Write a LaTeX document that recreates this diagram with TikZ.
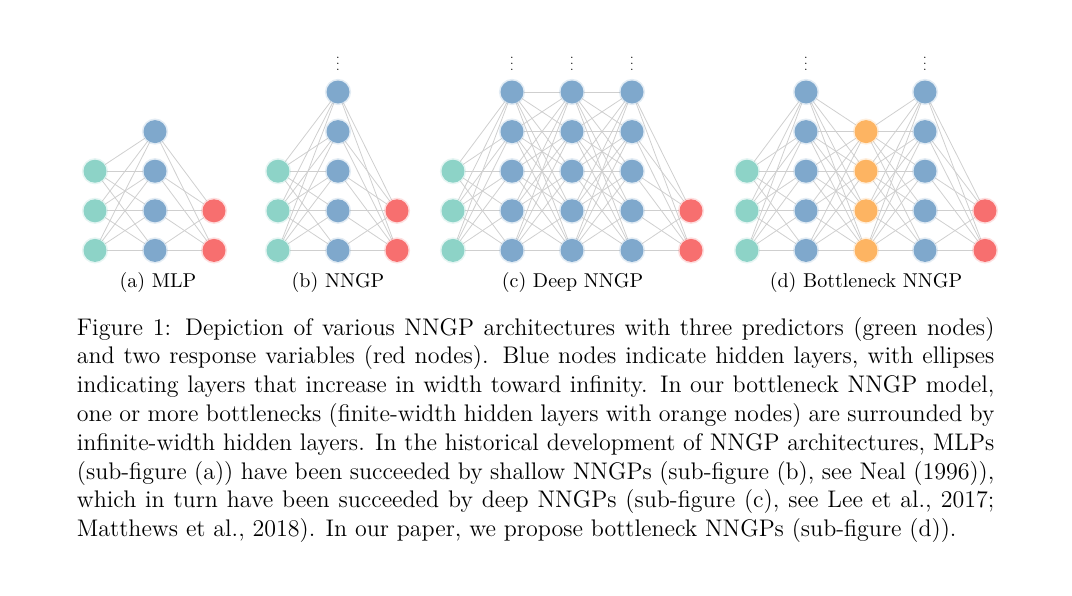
\documentclass[tikz,border=0pt]{standalone}
\usetikzlibrary{backgrounds}
\definecolor{ngreen}{HTML}{8DD3C7}
\definecolor{nblue}{HTML}{7FA8CC}
\definecolor{norange}{HTML}{FDB462}
\definecolor{nred}{HTML}{F76F6F}
\newcommand\mklayer[5]{% name, x, first row, last row, style
  \foreach \k in {#3,...,#4}{\node[#5] (#1\k) at (#2,{92+39.6*(\k-1)}) {};}}
\newcommand\fullconn[6]{% name1, from, to, name2, from, to
  \begin{scope}[on background layer]
  \foreach \i in {#2,...,#3}{\foreach \j in {#5,...,#6}{\draw[wire] (#1\i) -- (#4\j);}}
  \end{scope}}
\begin{document}
\begin{tikzpicture}[x=0.5pt,y=-0.5pt,
  unit/.style={circle, minimum size=11.5pt, inner sep=0pt,
    preaction={draw=#1, line width=1.6pt, draw opacity=0.22}, fill=#1},
  inp/.style={unit=ngreen},
  hid/.style={unit=nblue},
  bot/.style={unit=norange},
  outp/.style={unit=nred},
  wire/.style={draw=gray!38, line width=0.4pt},
  vdotsnode/.style={anchor=south, inner sep=0pt, font=\fontsize{8}{8}\selectfont},
  sub/.style={anchor=base, inner sep=0pt, font=\fontsize{10}{12}\selectfont}]
\useasboundingbox (0,0) rectangle (1072,595);
% (a) MLP
\mklayer{ag}{95}{3}{5}{inp}
\mklayer{ah}{155}{2}{5}{hid}
\mklayer{ar}{214}{4}{5}{outp}
\fullconn{ag}{3}{5}{ah}{2}{5}
\fullconn{ah}{2}{5}{ar}{4}{5}
\node[sub] (la) at (158,287.5) {(a) MLP};
% (b) NNGP
\mklayer{bg}{278}{3}{5}{inp}
\mklayer{bh}{338}{1}{5}{hid}
\mklayer{br}{397}{4}{5}{outp}
\fullconn{bg}{3}{5}{bh}{1}{5}
\fullconn{bh}{1}{5}{br}{4}{5}
\node[vdotsnode] (bd) at (338,71) {\scalebox{0.75}{$\vdots$}};
\node[sub] (lb) at (338,287.5) {(b) NNGP};
% (c) Deep NNGP
\mklayer{cg}{453}{3}{5}{inp}
\mklayer{ch}{512}{1}{5}{hid}
\mklayer{ci}{572}{1}{5}{hid}
\mklayer{cj}{632}{1}{5}{hid}
\mklayer{cr}{691}{4}{5}{outp}
\fullconn{cg}{3}{5}{ch}{1}{5}
\fullconn{ch}{1}{5}{ci}{1}{5}
\fullconn{ci}{1}{5}{cj}{1}{5}
\fullconn{cj}{1}{5}{cr}{4}{5}
\node[vdotsnode] (cd1) at (512,71) {\scalebox{0.75}{$\vdots$}};
\node[vdotsnode] (cd2) at (572,71) {\scalebox{0.75}{$\vdots$}};
\node[vdotsnode] (cd3) at (632,71) {\scalebox{0.75}{$\vdots$}};
\node[sub] (lc) at (572.5,287.5) {(c) Deep NNGP};
% (d) Bottleneck NNGP
\mklayer{dg}{747}{3}{5}{inp}
\mklayer{dh}{806}{1}{5}{hid}
\mklayer{do}{866}{2}{5}{bot}
\mklayer{di}{925}{1}{5}{hid}
\mklayer{dr}{985}{4}{5}{outp}
\fullconn{dg}{3}{5}{dh}{1}{5}
\fullconn{dh}{1}{5}{do}{2}{5}
\fullconn{do}{2}{5}{di}{1}{5}
\fullconn{di}{1}{5}{dr}{4}{5}
\node[vdotsnode] (dd1) at (806,71) {\scalebox{0.75}{$\vdots$}};
\node[vdotsnode] (dd2) at (925,71) {\scalebox{0.75}{$\vdots$}};
\node[sub] (ld) at (866,287.5) {(d) Bottleneck NNGP};
% caption
\node[anchor=base west, inner sep=0pt] (cap) at (76.5,335) {\parbox[t]{458.75pt}{\fontsize{12}{14.4}\selectfont
Figure 1: Depiction of various NNGP architectures with three predictors (green nodes)\linebreak
and two response variables (red nodes). Blue nodes indicate hidden layers, with ellipses\linebreak
indicating layers that increase in width toward infinity. In our bottleneck NNGP model,\linebreak
one or more bottlenecks (finite-width hidden layers with orange nodes) are surrounded by\linebreak
infinite-width hidden layers. In the historical development of NNGP architectures, MLPs\linebreak
(sub-figure (a)) have been succeeded by shallow NNGPs (sub-figure (b), see Neal (1996)),\linebreak
which in turn have been succeeded by deep NNGPs (sub-figure (c), see Lee et al., 2017;\linebreak
Matthews et al., 2018). In our paper, we propose bottleneck NNGPs (sub-figure (d)).}};
\end{tikzpicture}
\end{document}
